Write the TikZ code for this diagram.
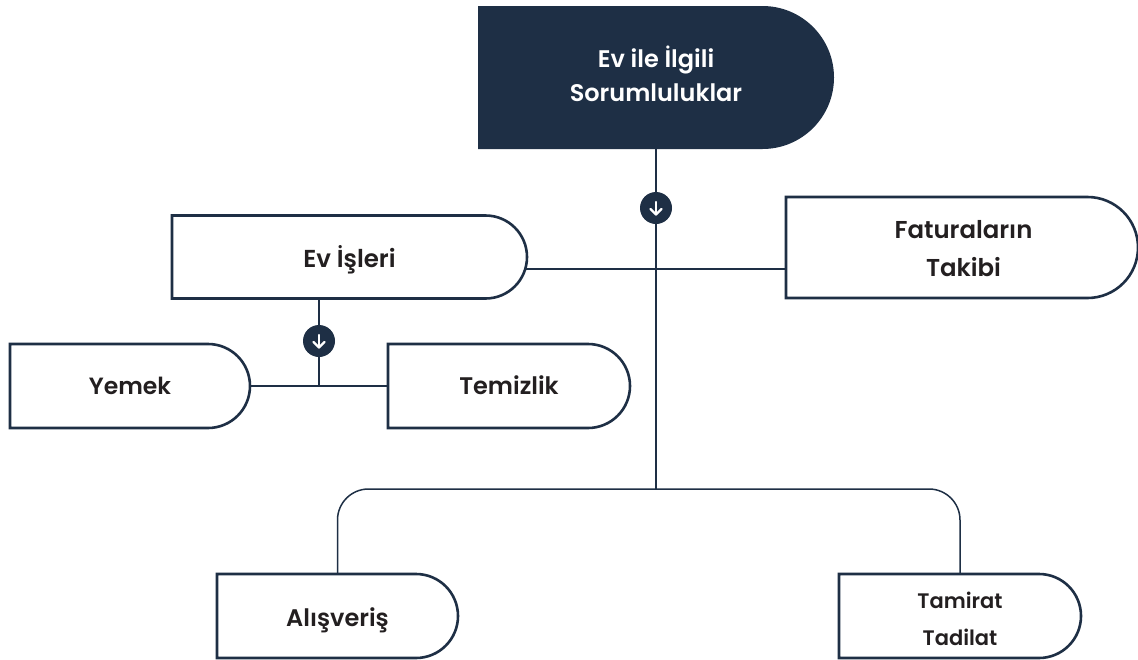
\documentclass[tikz,border=0pt]{standalone}
\usepackage{fontspec}
\setmainfont{Poppins}[BoldFont={* SemiBold}]
\usetikzlibrary{backgrounds,calc}
\definecolor{navy}{HTML}{1E2F45}
\definecolor{ink}{HTML}{231F20}
\tikzset{
  box/.style={rectangle, inner sep=0pt, outer sep=0pt, align=center, text=ink},
  fs/.style 2 args={font=\fontsize{#1}{#2}\selectfont\bfseries},
  lift/.style={text height=#1pt, text depth=0pt},
  outline/.style={draw=navy, line width=2.6pt, fill=white},
  headline/.style={fill=navy},
  link/.style={draw=navy, line width=1.5pt},
  badge/.style={circle, fill=navy, minimum size=32pt, inner sep=0pt, outer sep=0pt},
  badgearrow/.style={draw=white, line width=2.2pt, line cap=round, line join=round},
}
\newcommand{\downglyph}[1]{%
  \draw[badgearrow] ($(#1.center)+(0,-6)$) -- ($(#1.center)+(0,6.5)$);
  \draw[badgearrow] ($(#1.center)+(-5.5,1)$) -- ($(#1.center)+(0,6.5)$) -- ($(#1.center)+(5.5,1)$);
}
% half-round outline around a named node; the east end is a semicircle
\newcommand{\capoutline}[2]{%
  \path[#2] let \p1=(#1.north east), \p2=(#1.south east), \n1={(\y1-\y2)/2} in
    (#1.south west) -- (#1.north west) -- ($(#1.north east)+(-\n1,0)$)
    arc[start angle=90, end angle=-90, radius=\n1] -- cycle;
}
\begin{document}
\begin{tikzpicture}[x=1pt,y=-1pt]
\useasboundingbox (0,0) rectangle (1138,659);
\node[box, text=white, fs={24}{34}, lift=47, minimum width=356pt, minimum height=143pt] (top) at (656,77.5) {Ev ile İlgili\\Sorumluluklar};
\node[box, fs={24.5}{34}, lift=20, minimum width=355pt, minimum height=83pt] (ev) at (349.5,257) {Ev İşleri};
\node[box, fs={24.4}{38}, lift=57, minimum width=352pt, minimum height=101pt] (fatura) at (962,247.5) {\hspace{3pt}Faturaların\\\hspace{3pt}Takibi};
\node[box, fs={23.5}{34}, lift=16, minimum width=240pt, minimum height=84pt] (yemek) at (130,386) {Yemek};
\node[box, fs={24}{34}, lift=16, minimum width=242pt, minimum height=84pt] (temizlik) at (509,386) {Temizlik};
\node[box, fs={24}{34}, lift=20, minimum width=241pt, minimum height=84pt] (alis) at (337.5,616) {Alışveriş};
\node[box, fs={21}{37}, lift=58, minimum width=242pt, minimum height=84pt] (tamirat) at (960,616) {Tamirat\\Tadilat};
\coordinate (busA) at (656,269);
\coordinate (busB) at (656,489);
\coordinate (busC) at (319,386);
\node[badge] (b1) at (656,208) {};
\node[badge] (b2) at (319,341) {};
\downglyph{b1}
\downglyph{b2}
\begin{scope}[on background layer]
\fill[white] (0,0) rectangle (1138,659);
\draw[link] (top.south) -- (busB);
\draw[link] (ev.center |- busA) -- (fatura.center |- busA);
\draw[link] (ev.south -| busC) -- (busC);
\draw[link] (yemek) -- (temizlik);
\draw[link, rounded corners=31pt] (alis.north) -- (alis.north |- busB) -- (tamirat.north |- busB) -- (tamirat.north);
\capoutline{top}{headline}
\capoutline{ev}{outline}
\capoutline{fatura}{outline}
\capoutline{yemek}{outline}
\capoutline{temizlik}{outline}
\capoutline{alis}{outline}
\capoutline{tamirat}{outline}
\end{scope}
\end{tikzpicture}
\end{document}
